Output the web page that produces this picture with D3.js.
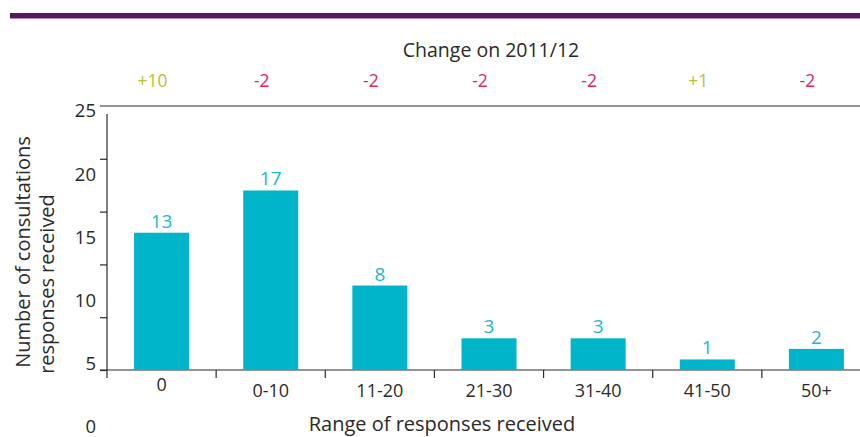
<!DOCTYPE html>
<html>
<head>
<meta charset="utf-8">
<script src="https://cdn.jsdelivr.net/npm/d3@7"></script>
<style>
  html, body { margin: 0; padding: 0; background: #fff; }
  svg text { font-family: "Open Sans", "Noto Sans", sans-serif; font-weight: 400; }
</style>
</head>
<body>
<svg id="chart" width="860" height="437"></svg>
<script>
const categories = ["0", "0-10", "11-20", "21-30", "31-40", "41-50", "50+"];
const values = [13, 17, 8, 3, 3, 1, 2];
const changes = ["+10", "-2", "-2", "-2", "-2", "+1", "-2"];
const yTickValues = [0, 5, 10, 15, 20, 25];
const titleText = "Change on 2011/12";
const xTitle = "Range of responses received";
const yTitleLines = ["Number of consultations", "responses received"];

const svg = d3.select("#chart");
const dark = "#2a2a2a";
const barColor = "#00b5c9";
const labelColor = "#22b8cd";
const posColor = "#b2c434";
const negColor = "#e0245e";

// top purple band
svg.append("rect").attr("x", 10).attr("y", 13).attr("width", 850).attr("height", 5.5).attr("fill", "#5b1663");

const x = d3.scaleBand().domain(categories).range([107, 871]).paddingInner(0.496).paddingOuter(0.248);
const y = d3.scaleLinear().domain([0, 25]).range([370, 106]);
const yLab = d3.scaleLinear().domain([0, 25]).range([427, 111]);
const step = x.step();

// top horizontal line at 25
svg.append("line").attr("x1", 100).attr("x2", 860).attr("y1", y(25)).attr("y2", y(25))
  .attr("stroke", dark).attr("stroke-width", 1.2);

// y axis ticks
const yAxis = d3.axisLeft(y).tickValues([0, 5, 10, 15, 20]).tickSize(7).tickFormat("");
const gy = svg.append("g").attr("transform", "translate(107,0)").call(yAxis);
gy.select(".domain").remove();
gy.selectAll(".tick line").attr("stroke", dark).attr("stroke-width", 1.2);
svg.append("line").attr("x1", 107).attr("x2", 107).attr("y1", y(25) + 8).attr("y2", y(0) + 8)
  .attr("stroke", dark).attr("stroke-width", 1.2);

// y tick labels (offset placement as in reference)
svg.append("g").selectAll("text").data(yTickValues).join("text")
  .attr("x", 96).attr("y", d => yLab(d)).attr("dy", "0.35em")
  .attr("text-anchor", "end").attr("font-size", 18.5).attr("fill", dark)
  .text(d => d);

// x axis
svg.append("line").attr("x1", 100).attr("x2", 860).attr("y1", y(0)).attr("y2", y(0))
  .attr("stroke", dark).attr("stroke-width", 1.2);
svg.append("g").selectAll("line").data(categories.slice(1)).join("line")
  .attr("x1", d => x(d) - step * 0.248).attr("x2", d => x(d) - step * 0.248)
  .attr("y1", y(0)).attr("y2", y(0) + 8)
  .attr("stroke", dark).attr("stroke-width", 1.2);

// bars
svg.append("g").selectAll("rect").data(values).join("rect")
  .attr("x", (d, i) => x(categories[i]))
  .attr("y", d => y(d))
  .attr("width", x.bandwidth())
  .attr("height", d => y(0) - y(d))
  .attr("fill", barColor);

// value labels
svg.append("g").selectAll("text").data(values).join("text")
  .attr("x", (d, i) => x(categories[i]) + x.bandwidth() / 2)
  .attr("y", d => y(d) - 5)
  .attr("text-anchor", "middle").attr("font-size", 19).attr("fill", labelColor)
  .text(d => d);

// x category labels
svg.append("g").selectAll("text").data(categories).join("text")
  .attr("x", d => x(d) + x.bandwidth() / 2)
  .attr("y", (d, i) => i === 0 ? 391 : 397)
  .attr("text-anchor", "middle").attr("font-size", 18).attr("fill", dark)
  .text(d => d);

// change labels
svg.append("text").attr("x", 491).attr("y", 57).attr("text-anchor", "middle")
  .attr("font-size", 19.5).attr("fill", dark).text(titleText);
svg.append("g").selectAll("text").data(changes).join("text")
  .attr("x", (d, i) => x(categories[i]) + x.bandwidth() / 2 - 9)
  .attr("y", 87)
  .attr("text-anchor", "middle").attr("font-size", 17.5)
  .attr("fill", d => d.startsWith("+") ? posColor : negColor)
  .text(d => d);

// axis titles
svg.append("text").attr("x", 442).attr("y", 431).attr("text-anchor", "middle")
  .attr("font-size", 20).attr("fill", dark).text(xTitle);
svg.append("text").attr("transform", "translate(30,252) rotate(-90)").attr("text-anchor", "middle")
  .attr("font-size", 20).attr("fill", dark).text(yTitleLines[0]);
svg.append("text").attr("transform", "translate(54,284) rotate(-90)").attr("text-anchor", "middle")
  .attr("font-size", 20).attr("fill", dark).text(yTitleLines[1]);
</script>
</body>
</html>
